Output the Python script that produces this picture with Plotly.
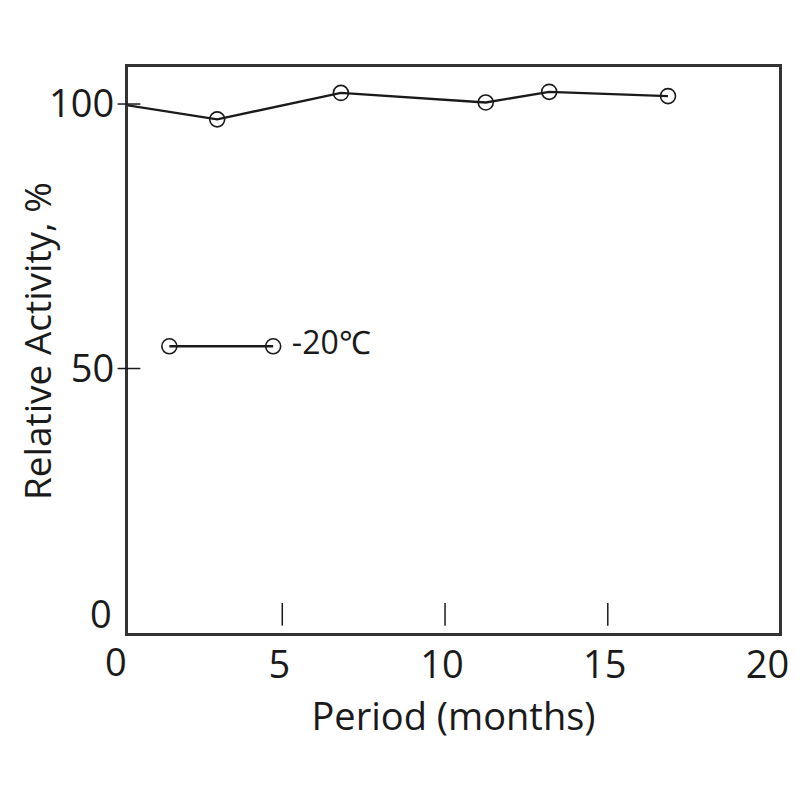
import plotly.graph_objects as go

# data
months = [0, 3.0, 6.8, 11.25, 13.2, 16.85]
activity = [100, 97.1, 102.1, 100.3, 102.3, 101.5]

legend_x = [1.53, 4.72]
legend_y = [54.2, 54.2]
legend_text = ["", " -20℃"]

x_ticks = [5, 10, 15, 20]
x_marks = [5, 10, 15]
y_ticks = [50, 100]

font = "Open Sans"
digits = "Liberation Sans Narrow, Open Sans"
ink = "#1a1a1a"

fig = go.Figure()
fig.add_trace(go.Scatter(
    x=months, y=activity, mode="lines+markers",
    line=dict(color=ink, width=2.4),
    marker=dict(symbol="circle-open", size=15, color=ink, line=dict(width=1.6)),
    showlegend=False,
))
# legend drawn inside the plot like the original
fig.add_trace(go.Scatter(
    x=legend_x, y=legend_y, mode="lines+markers+text",
    text=legend_text, textposition="middle right",
    textfont=dict(family=font, size=32, color=ink),
    line=dict(color=ink, width=2.4),
    marker=dict(symbol="circle-open", size=15, color=ink, line=dict(width=1.6)),
    showlegend=False, cliponaxis=False,
))

fig.update_layout(
    width=784, height=784,
    margin=dict(l=119.5, r=12.5, t=58.5, b=158.5, autoexpand=False),
    plot_bgcolor="white", paper_bgcolor="white",
    font=dict(family=font, size=30, color=ink),
    xaxis=dict(
        range=[0.26, 20.26], tickvals=x_ticks, ticks="",
        showgrid=False, zeroline=False,
        showline=True, linecolor="#333", linewidth=3.2, mirror=True,
        automargin=True, ticklabelshift=-3, ticklabelstandoff=-4,
        tickfont=dict(family=digits, size=38),
        title=dict(text="Period (months)", font=dict(size=38), standoff=12),
    ),
    yaxis=dict(
        range=[0, 107], tickvals=y_ticks, ticks="",
        showgrid=False, zeroline=False,
        showline=True, linecolor="#333", linewidth=3.2, mirror=True,
        automargin=True, ticklabelstandoff=3,
        tickfont=dict(family=digits, size=38),
    ),
)

# x ticks float just above the bottom frame, y ticks cross the left frame
for v in x_marks:
    fig.add_shape(type="line", xref="x", yref="paper", x0=v, x1=v, y0=0.013, y1=0.053,
                  line=dict(color=ink, width=1.5))
for v in y_ticks:
    fig.add_shape(type="line", xref="paper", yref="y", x0=-0.016, x1=0.019, y0=v, y1=v,
                  line=dict(color=ink, width=1.5))

# y title, placed by hand like the original
fig.add_annotation(x=0, y=0.5, xref="paper", yref="paper", text="Relative Activity, %",
                   textangle=-90, showarrow=False, font=dict(size=37),
                   xanchor="center", yanchor="middle", xshift=-92, yshift=9)

# the "0" labels sit off the axis range in the original
fig.add_annotation(x=0, y=0, xref="paper", yref="y", text="0", showarrow=False,
                   font=dict(family=digits, size=38),
                   xanchor="right", yanchor="middle", xshift=-14, yshift=20)
fig.add_annotation(x=0, y=0, xref="paper", yref="paper", text="0", showarrow=False,
                   font=dict(family=digits, size=38),
                   xanchor="center", yanchor="top", xshift=-12, yshift=0)

fig.write_html("out.html")
